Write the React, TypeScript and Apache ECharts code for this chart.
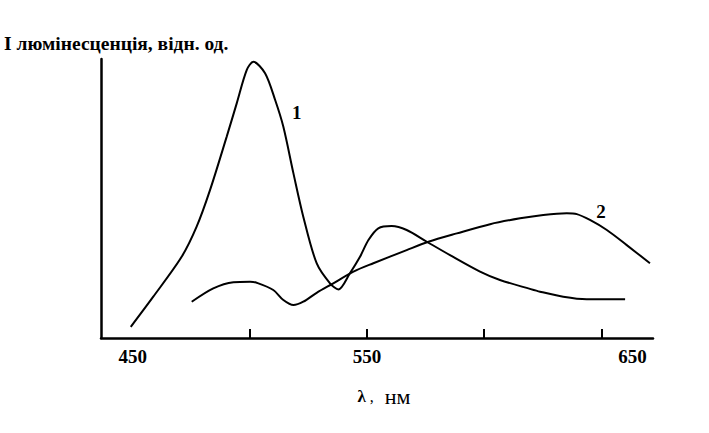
import React, { useEffect, useRef } from "react";
import * as echarts from "echarts";

const FONT = '"Liberation Serif", "Times New Roman", serif';

// Curve 1: wavelength (nm) and relative luminescence intensity
const curve1Nm = [449.2, 458.8, 470.9, 477.3, 483.0, 490.1, 494.4, 498.7, 501.5, 506.5, 510.8, 514.3, 518.6, 522.8, 528.5, 534.2, 537.8, 542.7, 547.0, 550.6, 554.8, 560.5, 566.9, 575.5, 585.4, 598.2, 606.7, 619.5, 623.8, 633.7, 643.7, 660.1];
const curve1Val = [4.0, 14.8, 29.1, 39.9, 53.0, 72.1, 84.1, 96.1, 99.0, 94.9, 85.3, 75.7, 59.0, 43.5, 26.8, 19.6, 17.4, 23.2, 29.1, 35.1, 39.3, 40.1, 38.7, 34.5, 29.7, 23.8, 20.8, 17.6, 16.6, 14.8, 13.9, 13.9];

// Curve 2
const curve2Nm = [475.2, 484.4, 493.0, 500.1, 502.9, 510.0, 514.3, 518.6, 522.8, 528.5, 535.6, 544.2, 552.7, 566.9, 576.2, 588.3, 602.5, 615.3, 625.2, 635.2, 639.5, 645.1, 652.3, 660.8, 670.7];
const curve2Val = [13.0, 17.8, 20.0, 20.2, 19.8, 17.2, 13.6, 11.8, 13.0, 16.2, 19.6, 23.8, 26.8, 31.5, 34.5, 37.5, 40.8, 42.9, 44.1, 44.7, 44.4, 42.3, 38.7, 33.3, 26.8];

const tickValues = [500, 550, 600, 650];
const labelValues = [450, 550, 650];
const curveNames = ["1", "2"];
const curveLabelAt = [
  [520, 81],
  [649.8, 45.3],
];

function pairs(xs: number[], ys: number[]) {
  return xs.map((x, i) => [x, ys[i]]);
}

export default function App() {
  const ref = useRef<HTMLDivElement>(null);
  useEffect(() => {
    const chart = echarts.init(ref.current!, null, { renderer: "svg" });
    const labelStyle = {
      show: true,
      position: "inside",
      color: "#000",
      fontFamily: FONT,
      fontSize: 19,
      fontWeight: "bold",
    };
    const mkSeries = (idx: number, data: number[][]) => ({
      type: "line",
      name: curveNames[idx],
      data,
      smooth: 0.3,
      showSymbol: false,
      symbol: "none",
      lineStyle: { color: "#000", width: 2 },
      markPoint: {
        symbol: "circle",
        symbolSize: 1,
        itemStyle: { color: "rgba(0,0,0,0)" },
        label: { ...labelStyle, formatter: curveNames[idx] },
        data: [{ coord: curveLabelAt[idx] }],
      },
    });
    chart.setOption({
      animation: false,
      backgroundColor: "#fff",
      title: {
        text: "І люмінесценція, відн. од.",
        left: 4,
        top: 33,
        padding: 0,
        textStyle: { fontFamily: FONT, fontSize: 19.5, fontWeight: "bold", color: "#000" },
      },
      grid: { left: 101, right: 56, top: 59, bottom: 95 },
      xAxis: {
        type: "value",
        min: 436.5,
        max: 672,
        axisLine: { lineStyle: { color: "#000", width: 2.5 } },
        axisTick: { inside: true, length: 9, customValues: tickValues, lineStyle: { color: "#000", width: 2 } },
        axisLabel: {
          customValues: labelValues,
          margin: 9,
          color: "#000",
          fontFamily: FONT,
          fontSize: 19,
          fontWeight: "bold",
          formatter: (v: number) => (v === 650 ? "{r|650}" : String(v)),
          rich: {
            r: { padding: [0, 0, 0, 62], color: "#000", fontFamily: FONT, fontSize: 19, fontWeight: "bold" },
          },
        },
        splitLine: { show: false },
        name: "{a|λ}{b| ,}{c|  нм}",
        nameLocation: "middle",
        nameGap: 47,
        nameTextStyle: {
          color: "#000",
          fontFamily: FONT,
          rich: {
            a: { fontSize: 17, fontWeight: "bold", color: "#000", fontFamily: FONT, padding: [0, 0, 0, 14] },
            b: { fontSize: 16, color: "#000", fontFamily: FONT },
            c: { fontSize: 22, color: "#000", fontFamily: FONT },
          },
        },
      },
      yAxis: {
        type: "value",
        min: 0,
        max: 100,
        axisLine: { show: true, lineStyle: { color: "#000", width: 2.5 } },
        axisTick: { show: false },
        axisLabel: { show: false },
        splitLine: { show: false },
      },
      series: [mkSeries(0, pairs(curve1Nm, curve1Val)), mkSeries(1, pairs(curve2Nm, curve2Val))],
    });
    return () => chart.dispose();
  }, []);
  return (
    <div
      ref={ref}
      style={{ position: "fixed", left: 0, top: 0, width: 709, height: 433, background: "#fff" }}
    />
  );
}
